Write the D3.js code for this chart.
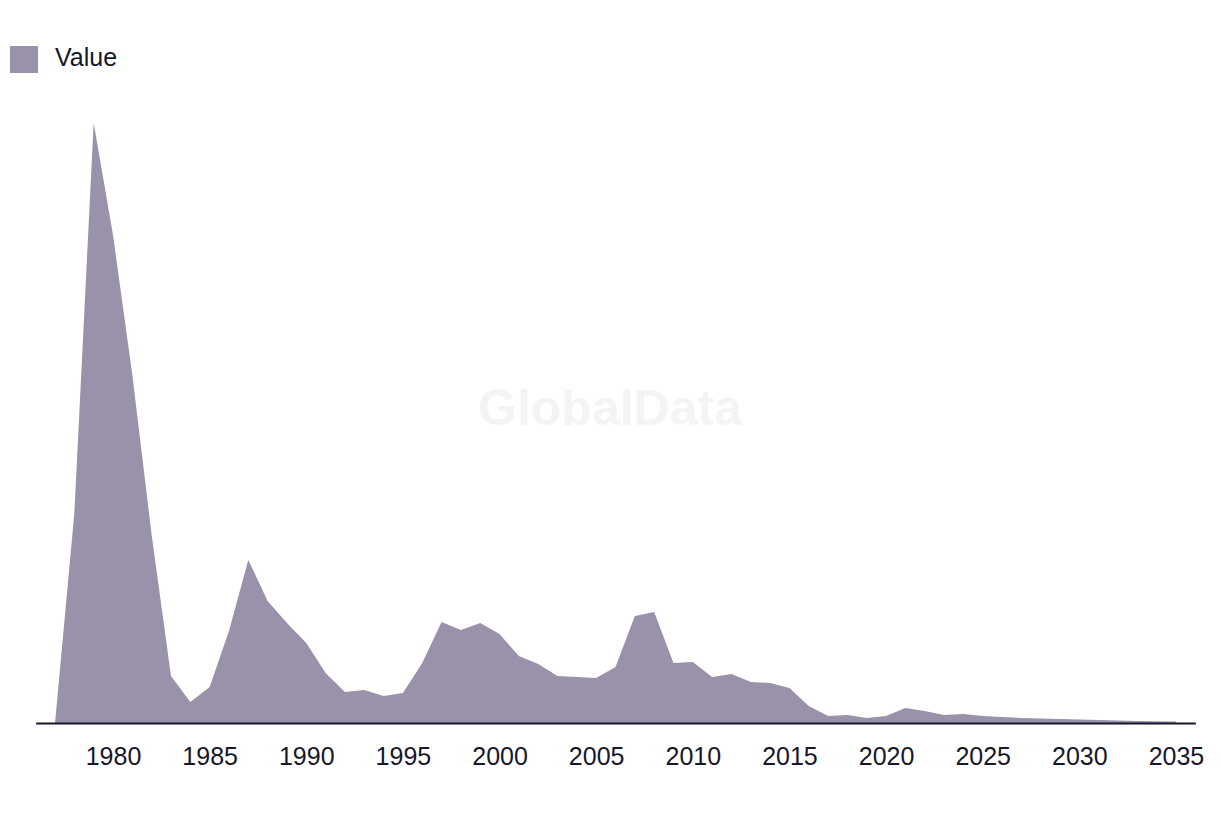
<!DOCTYPE html>
<html><head><meta charset="utf-8">
<script src="https://cdn.jsdelivr.net/npm/d3@7"></script>
<style>
html,body{margin:0;padding:0;background:#fff;}
svg{display:block;font-family:"Liberation Sans",Arial,sans-serif;}
</style></head>
<body>
<svg id="chart" width="1220" height="814"></svg>
<script>
const years = d3.range(1977, 2036);
const values = [0,210,600,488,348,188,47,21,36,92,163,122,100,80,50,31,33,27,30,60,101,93,100,89,67,59,47,46,45,56,107,111,60,61,46,49,41,40,35,17,7,8,5,7,15,12,8,9,7,6,5,4.5,4,3.5,3,2.5,2,1.8,1.5];
const tickYears = d3.range(1980, 2036, 5);
const seriesName = "Value";
const data = years.map((y,i)=>({year:y, value:values[i]}));

const svg = d3.select("#chart");
const fillColor = "#9a91aa";
const inkColor = "#17172b";

const x = d3.scaleLinear().domain([1976, 2036]).range([35.7, 1195.3]);
const y = d3.scaleLinear().domain([0, 600]).range([723, 123]);

// watermark
svg.append("text").attr("x", 610).attr("y", 425).attr("text-anchor","middle")
  .attr("font-size", 50).attr("font-weight","bold").attr("fill","#f4f4f4")
  .text("GlobalData");

const area = d3.area().x(d=>x(d.year)).y0(y(0)).y1(d=>y(d.value));
svg.append("path").datum(data).attr("d", area).attr("fill", fillColor);

const axis = d3.axisBottom(x).tickValues(tickYears).tickFormat(d3.format("d"))
  .tickSize(0).tickPadding(24);
const g = svg.append("g").attr("transform", `translate(0,${y(0)})`).call(axis);
g.select(".domain").attr("stroke", inkColor).attr("stroke-width", 2);
g.selectAll("text").attr("font-size", 25).attr("fill", inkColor)
  .attr("font-family", '"Liberation Sans",Arial,sans-serif');

// legend
svg.append("rect").attr("x",10).attr("y",46).attr("width",28).attr("height",27).attr("fill",fillColor);
svg.append("text").attr("x",55).attr("y",66).attr("font-size",25).attr("fill",inkColor).text(seriesName);
</script>
</body></html>
